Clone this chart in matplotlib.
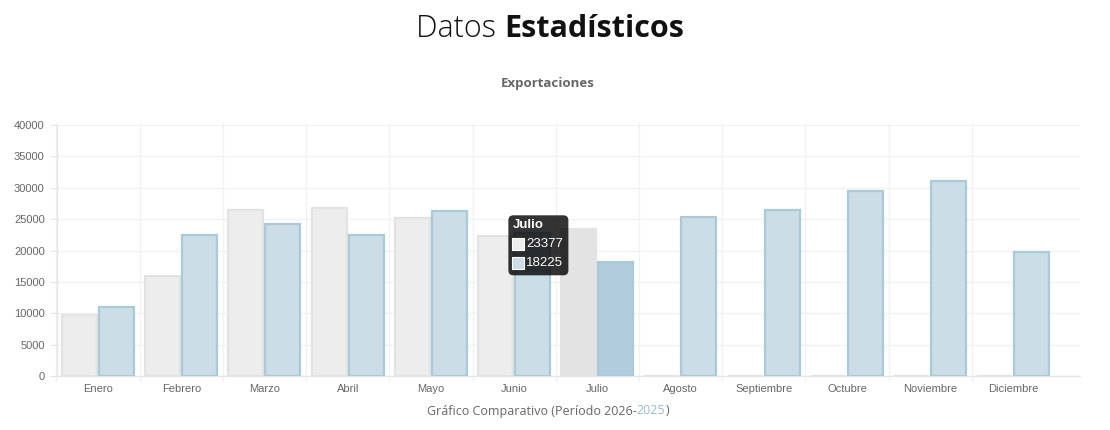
import matplotlib.pyplot as plt
from matplotlib.patches import FancyBboxPatch, Rectangle
from matplotlib.transforms import IdentityTransform
import numpy as np

# === DATOS ===
meses = ["Enero", "Febrero", "Marzo", "Abril", "Mayo", "Junio", "Julio",
         "Agosto", "Septiembre", "Octubre", "Noviembre", "Diciembre"]
valores_2026 = [9700, 15900, 26500, 26800, 25200, 22300, 23377, 0, 0, 0, 0, 0]
valores_2025 = [11000, 22400, 24200, 22500, 26300, 22800, 18225, 25400, 26400, 29500, 31100, 19800]
y_ticks = [0, 5000, 10000, 15000, 20000, 25000, 30000, 35000, 40000]
mes_activo = "Julio"

# === COLORES ===
gris_fill, gris_edge = "#EDEDED", "#E3E3E3"
gris_fill_hover = "#E3E3E3"
azul_fill, azul_edge = "#CBDDE6", "#ACC9D7"
azul_fill_hover = "#B1CDDB"
texto = "#666666"
grid = "#F2F2F2"

W, H = 1110, 430
fig = plt.figure(figsize=(W / 100, H / 100), dpi=100)
ax = fig.add_axes([56.5 / W, 54 / H, (1080 - 56.5) / W, 251 / H])

x = np.arange(len(meses))
activo = meses.index(mes_activo)
fill_g = [gris_fill_hover if i == activo else gris_fill for i in x]
fill_a = [azul_fill_hover if i == activo else azul_fill for i in x]

ax.bar(x - 0.224, valores_2026, width=0.421, color=fill_g, edgecolor=gris_edge,
       linewidth=1.6, zorder=3)
ax.bar(x + 0.221, valores_2025, width=0.421, color=fill_a, edgecolor=azul_edge,
       linewidth=1.6, zorder=3)

ax.set_xlim(-0.5, 11.8)
ax.set_ylim(0, 40000)

# grid
for v in y_ticks:
    ax.axhline(v, color=grid, lw=1, zorder=0)
for b in np.arange(-0.5, 11, 1.0):
    ax.plot([b, b], [-4 / 251, 1 + 2.5 / 251], color=grid, lw=1,
            transform=ax.get_xaxis_transform(), clip_on=False, zorder=0)

for s in ["top", "right"]:
    ax.spines[s].set_visible(False)
for s in ["left", "bottom"]:
    ax.spines[s].set_color("#E6E6E6")
    ax.spines[s].set_linewidth(1)

ax.set_yticks(y_ticks)
ax.set_yticklabels([str(v) for v in y_ticks])
ax.set_xticks(x)
ax.set_xticklabels(meses)
ax.tick_params(axis="y", length=5, color="#E6E6E6", pad=3.5,
               labelsize=8, labelcolor=texto)
ax.tick_params(axis="x", length=0, pad=6, labelsize=8, labelcolor=texto)
for lab in ax.get_xticklabels() + ax.get_yticklabels():
    lab.set_family("Liberation Sans")


# === TEXTOS ===
def texto_partes(partes, cx, y, **kw):
    r = fig.canvas.get_renderer()
    objs = [fig.text(0, y, t, ha="left", **kw, **p) for t, p in partes]
    anchos = [o.get_window_extent(r).width for o in objs]
    x0 = cx - sum(anchos) / 2
    for o, w in zip(objs, anchos):
        o.set_x(x0 / W)
        x0 += w


texto_partes([("Datos ", dict(fontweight="light", color="#111111")),
              ("Estadísticos", dict(fontweight="bold", color="#111111"))],
             550, 1 - 37 / H, family="Open Sans", fontsize=22, va="baseline")

fig.text(548 / W, 1 - 84 / H, "Exportaciones", ha="center", va="center",
         family="Open Sans", fontweight="bold", fontsize=9.5, color=texto)

texto_partes([("Gráfico Comparativo (Período 2026-", dict(color=texto)),
              ("2025", dict(color="#97BBCD")),
              (")", dict(color=texto))],
             548, 1 - 411 / H, family="Open Sans", fontsize=9, va="center")

# === TOOLTIP ===
ax_px = ax.transData.transform((activo, valores_2026[activo]))
ancla_x, ancla_y = ax_px
caja = FancyBboxPatch((ancla_x - 89, ancla_y - 46), 60, 60,
                      boxstyle="round,pad=0,rounding_size=5",
                      fc=(0, 0, 0, 0.8), ec="none", transform=IdentityTransform(),
                      zorder=10)
fig.patches.append(caja)
fig.text((ancla_x - 85) / W, (ancla_y + 4) / H, mes_activo, color="white",
         fontweight="bold", fontsize=9.5, family="Liberation Sans", va="center",
         zorder=11)
for k, (val, col) in enumerate([(valores_2026[activo], gris_fill),
                                (valores_2025[activo], azul_fill)]):
    cy = ancla_y - 15 - 19 * k
    fig.patches.append(Rectangle((ancla_x - 85, cy - 6), 12, 12, fc=col, ec="white",
                                 lw=0.8, transform=IdentityTransform(), zorder=11))
    fig.text((ancla_x - 71) / W, cy / H, str(val), color="white", fontsize=9.5,
             family="Liberation Sans", va="center", zorder=11)

fig.savefig("out.png", dpi=100)
